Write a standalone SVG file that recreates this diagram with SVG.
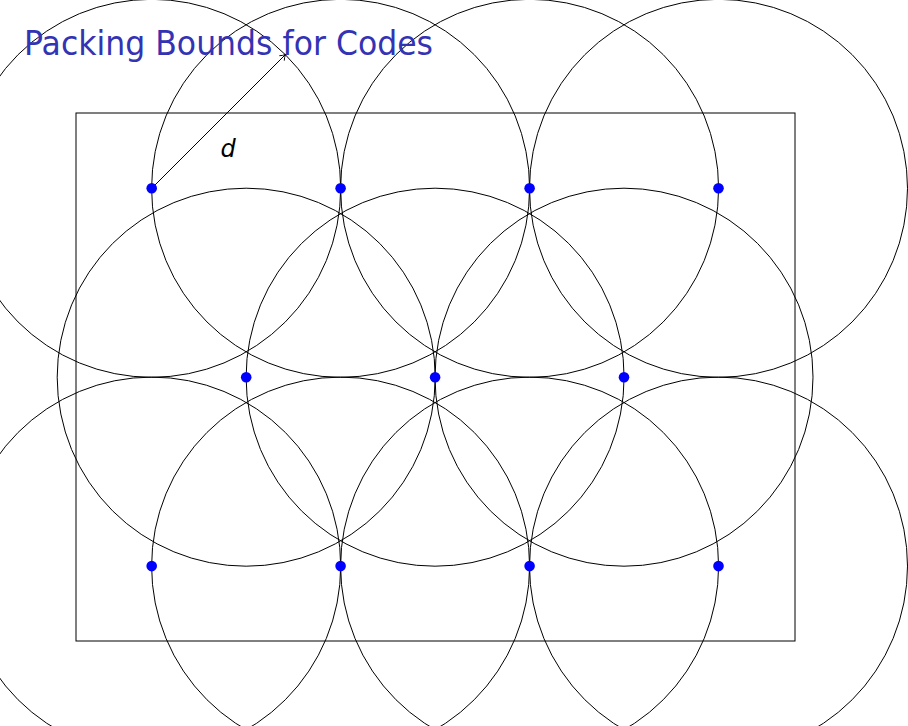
<svg xmlns="http://www.w3.org/2000/svg" width="908" height="726" viewBox="0 0 908 726">
<defs>
<style>
.c{fill:none;stroke:#000;stroke-width:1}
.p{fill:#0000ff}
.t{font-family:"DejaVu Sans","Liberation Sans",sans-serif;fill:#3333b3}
</style>
<marker id="ah" markerWidth="10" markerHeight="10" refX="7" refY="5" orient="auto" markerUnits="userSpaceOnUse">
<path d="M1.5,1.5 Q4,4 7,5 Q4,6 1.5,8.5" fill="none" stroke="#000" stroke-width="0.9"/>
</marker>
</defs>
<rect width="908" height="726" fill="#fff"/>
<g id="frame"><rect x="76" y="113" width="719" height="528" class="c"/></g>
<g id="circles">
<circle cx="151.7" cy="188.3" r="189" class="c"/>
<circle cx="340.6" cy="188.3" r="189" class="c"/>
<circle cx="529.6" cy="188.3" r="189" class="c"/>
<circle cx="718.5" cy="188.3" r="189" class="c"/>
<circle cx="246.2" cy="377.2" r="189" class="c"/>
<circle cx="435.1" cy="377.2" r="189" class="c"/>
<circle cx="624.0" cy="377.2" r="189" class="c"/>
<circle cx="151.7" cy="566.1" r="189" class="c"/>
<circle cx="340.6" cy="566.1" r="189" class="c"/>
<circle cx="529.6" cy="566.1" r="189" class="c"/>
<circle cx="718.5" cy="566.1" r="189" class="c"/>
</g>
<g id="connectors">
<line x1="151.7" y1="188.3" x2="285.7" y2="54.3" stroke="#000" stroke-width="1" marker-end="url(#ah)"/>
</g>
<g id="points">
<circle cx="151.7" cy="188.3" r="5.3" class="p"/>
<circle cx="340.6" cy="188.3" r="5.3" class="p"/>
<circle cx="529.6" cy="188.3" r="5.3" class="p"/>
<circle cx="718.5" cy="188.3" r="5.3" class="p"/>
<circle cx="246.2" cy="377.2" r="5.3" class="p"/>
<circle cx="435.1" cy="377.2" r="5.3" class="p"/>
<circle cx="624.0" cy="377.2" r="5.3" class="p"/>
<circle cx="151.7" cy="566.1" r="5.3" class="p"/>
<circle cx="340.6" cy="566.1" r="5.3" class="p"/>
<circle cx="529.6" cy="566.1" r="5.3" class="p"/>
<circle cx="718.5" cy="566.1" r="5.3" class="p"/>
</g>
<g id="label-d"><text x="228" y="157" font-family="DejaVu Sans, sans-serif" font-style="italic" font-size="24" text-anchor="middle">d</text></g>
<g id="title"><text x="24" y="55" class="t" font-size="34" textLength="409" lengthAdjust="spacingAndGlyphs">Packing Bounds for Codes</text></g>
</svg>
